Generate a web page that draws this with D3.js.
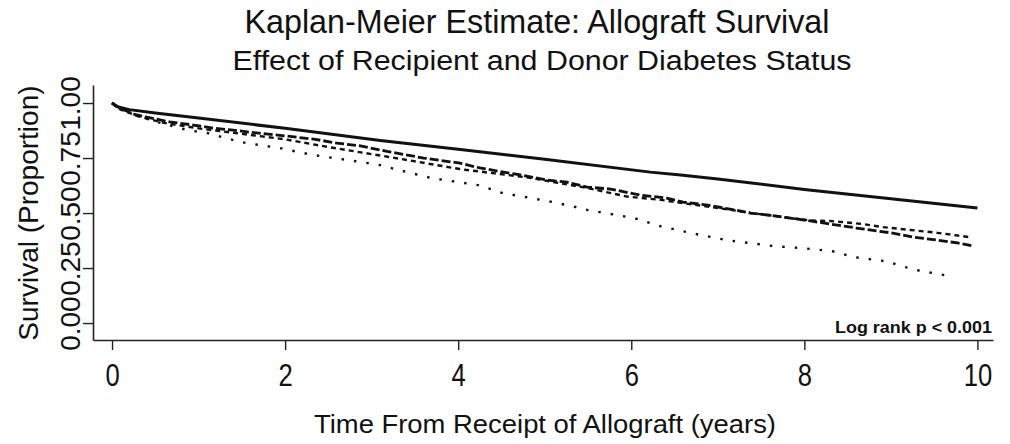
<!DOCTYPE html>
<html>
<head>
<meta charset="utf-8">
<script src="https://cdn.jsdelivr.net/npm/d3@7"></script>
<style>
  body { margin: 0; background: #fff; }
  svg { display: block; font-family: "Liberation Sans", Arial, sans-serif; }
</style>
</head>
<body>
<svg id="chart" width="1010" height="444"></svg>
<script>
// survival curves (time in years, proportion surviving)
const solidTimes = [0, 0.05, 0.2, 0.5, 1, 2, 3.1, 4, 5, 6.22, 6.57, 7, 8, 9, 10];
const solidSurv  = [1.0, 0.985, 0.97, 0.955, 0.932, 0.885, 0.83, 0.79, 0.745, 0.686, 0.673, 0.655, 0.607, 0.565, 0.523];

const longDashTimes = [0, 0.1, 0.25, 0.4, 0.67, 0.94, 1.17, 1.4, 1.67, 1.94, 2.33, 2.6, 2.87, 3.18, 3.6, 4.02, 4.25, 4.72,
  5.03, 5.26, 5.49, 5.76, 6.1, 6.41, 6.6, 6.88, 7.14, 7.38, 7.6, 7.84, 8.07, 8.3, 8.6, 9.0, 9.27, 9.54, 9.77, 9.95];
const longDashSurv  = [1.0, 0.975, 0.95, 0.936, 0.914, 0.9, 0.886, 0.877, 0.864, 0.853, 0.836, 0.818, 0.805, 0.78, 0.75, 0.727, 0.705, 0.673,
  0.65, 0.64, 0.618, 0.609, 0.582, 0.568, 0.55, 0.536, 0.518, 0.5, 0.49, 0.477, 0.464, 0.45, 0.432, 0.41, 0.39, 0.377, 0.364, 0.35];

const shortDashTimes = [0, 0.1, 0.3, 0.6, 1.0, 1.5, 2.0, 2.5, 3.2, 4.02, 4.83, 5.49, 5.95, 6.34, 6.6, 6.88, 7.14, 7.38, 7.6,
  7.84, 8.07, 8.3, 8.68, 8.91, 9.23, 9.54, 9.92];
const shortDashSurv  = [1.0, 0.97, 0.94, 0.91, 0.885, 0.86, 0.835, 0.8, 0.755, 0.7, 0.66, 0.614, 0.575, 0.56, 0.545, 0.53, 0.515, 0.5, 0.49,
  0.477, 0.466, 0.464, 0.45, 0.436, 0.423, 0.41, 0.39];

const dotTimes = [0, 0.1, 0.3, 0.6, 0.87, 1.1, 1.48, 1.94, 2.32, 2.72, 3.1, 3.27, 3.68, 4.23, 4.52, 4.77, 5.09, 5.33, 5.5,
  5.85, 6.07, 6.34, 6.68, 7.1, 7.38, 7.64, 7.99, 8.32, 8.57, 8.96, 9.11, 9.34, 9.66];
const dotSurv  = [1.0, 0.98, 0.94, 0.905, 0.877, 0.864, 0.823, 0.795, 0.764, 0.741, 0.718, 0.7, 0.66, 0.627, 0.59, 0.573, 0.55, 0.53, 0.513,
  0.49, 0.473, 0.44, 0.41, 0.377, 0.363, 0.35, 0.34, 0.327, 0.3, 0.28, 0.26, 0.237, 0.215];

const xTicks = [0, 2, 4, 6, 8, 10];
const yTicks = [0, 0.25, 0.5, 0.75, 1];
const yTickLabels = ["0.00", "0.25", "0.50", "0.75", "1.00"];

const titleText = "Kaplan-Meier Estimate: Allograft Survival";
const subtitleText = "Effect of Recipient and Donor Diabetes Status";
const xTitle = "Time From Receipt of Allograft (years)";
const yTitle = "Survival (Proportion)";
const noteText = "Log rank p < 0.001";

const svg = d3.select("#chart");

// plot region extends a little past the data like the original
const x = d3.scaleLinear().domain([-0.22, 10.18]).range([93, 993]);
const y = d3.scaleLinear().domain([-0.077, 1.082]).range([340, 85]);

function fitWidth(sel, w) {
  sel.attr("textLength", w).attr("lengthAdjust", "spacingAndGlyphs");
}

// titles
svg.append("text").attr("x", 537).attr("y", 33)
  .attr("text-anchor", "middle").style("font-size", "33px").attr("fill", "#111")
  .text(titleText).call(fitWidth, 585);
svg.append("text").attr("x", 542).attr("y", 70)
  .attr("text-anchor", "middle").style("font-size", "27px").attr("fill", "#111")
  .text(subtitleText).call(fitWidth, 619);

// x axis
const xAxis = svg.append("g")
  .attr("transform", "translate(0," + y.range()[0] + ")")
  .call(d3.axisBottom(x).tickValues(xTicks).tickSize(10).tickSizeOuter(0).tickFormat(d3.format("d")));
xAxis.select(".domain").attr("stroke", "#222").attr("stroke-width", 1.6);
xAxis.selectAll(".tick line").attr("stroke", "#222").attr("stroke-width", 1.4);
xAxis.selectAll(".tick text")
  .attr("dy", null).attr("y", 46)
  .style("font-size", "32px").attr("fill", "#111")
  .each(function () {
    const w = this.getComputedTextLength();
    d3.select(this).call(fitWidth, w * 0.8);
  });

// y axis
const yAxis = svg.append("g")
  .attr("transform", "translate(" + x.range()[0] + ",0)")
  .call(d3.axisLeft(y).tickValues(yTicks).tickSize(10).tickSizeOuter(0).tickFormat((d, i) => yTickLabels[i]));
yAxis.select(".domain").attr("stroke", "#222").attr("stroke-width", 1.6);
yAxis.selectAll(".tick line").attr("stroke", "#222").attr("stroke-width", 1.4);
yAxis.selectAll(".tick text")
  .attr("dy", null).attr("x", 0).attr("y", -13)
  .attr("transform", "rotate(-90)")
  .attr("text-anchor", "middle")
  .style("font-size", "28px").attr("fill", "#111");

svg.append("text")
  .attr("transform", "translate(38," + y(0.5) + ") rotate(-90)")
  .attr("text-anchor", "middle").style("font-size", "28px").attr("fill", "#111")
  .text(yTitle);

svg.append("text").attr("x", 545).attr("y", 433)
  .attr("text-anchor", "middle").style("font-size", "25px").attr("fill", "#111")
  .text(xTitle).call(fitWidth, 462);

svg.append("text").attr("x", 992).attr("y", 333)
  .attr("text-anchor", "end").style("font-size", "17px").style("font-weight", "bold").attr("fill", "#111")
  .text(noteText).call(fitWidth, 157);

// curves
const series = [
  {t: solidTimes, s: solidSurv, dash: null, width: 3},
  {t: longDashTimes, s: longDashSurv, dash: "9,3", width: 2.8},
  {t: shortDashTimes, s: shortDashSurv, dash: "5,4", width: 2.4},
  {t: dotTimes, s: dotSurv, dash: "2.5,10", width: 2.4}
];

const line = d3.line()
  .x(d => x(d[0]))
  .y(d => y(d[1]));

svg.append("g")
  .selectAll("path")
  .data(series)
  .enter()
  .append("path")
  .attr("d", d => line(d3.zip(d.t, d.s)))
  .attr("fill", "none")
  .attr("stroke", "#111")
  .attr("stroke-width", d => d.width)
  .attr("stroke-dasharray", d => d.dash);
</script>
</body>
</html>
